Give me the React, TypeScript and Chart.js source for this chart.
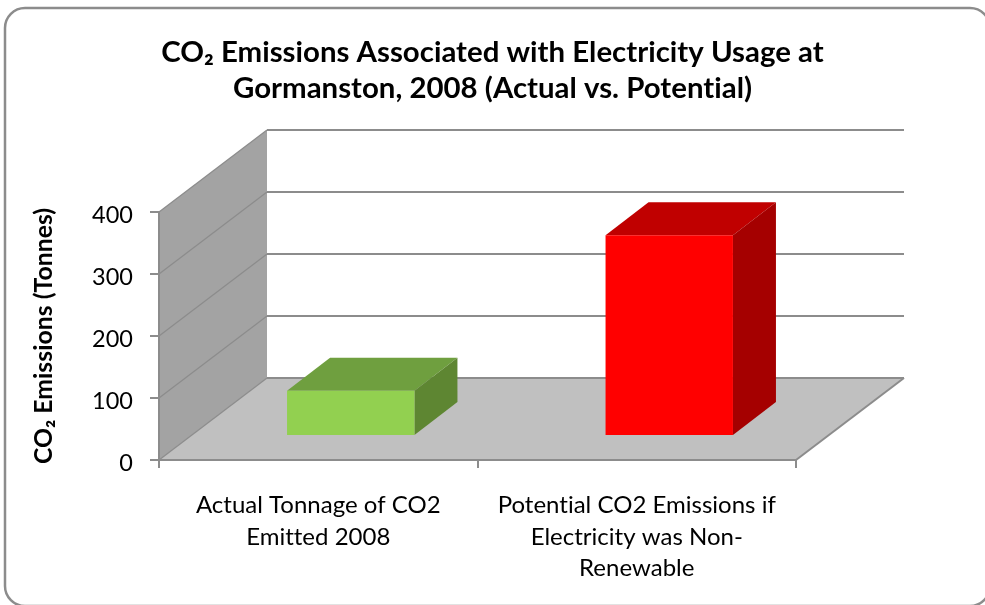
import { useEffect, useRef } from "react";
import { Chart, registerables } from "chart.js";

Chart.register(...registerables);

// Chart content
const titleLines = [
  "CO₂ Emissions Associated with Electricity Usage at",
  "Gormanston, 2008 (Actual vs. Potential)",
];
const valueAxisTitle = "CO₂ Emissions (Tonnes)";
const categoryLabels = [
  ["Actual Tonnage of CO2", "Emitted 2008"],
  ["Potential CO2 Emissions if", "Electricity was Non-", "Renewable"],
];
const emissionsTonnes = [73, 324];

// Bar face colours, one entry per category
const frontColors = ["#92d050", "#ff0000"];
const topColors = ["#6f9f3f", "#c00000"];
const sideColors = ["#5e8632", "#a50000"];

// Oblique projection of the 3D box
const WALL_DEPTH_X = 108;
const WALL_DEPTH_Y = 82;
const BAR_OFFSET_X = 32.5;
const BAR_OFFSET_Y = 24;
const BAR_DEPTH_X = 43;
const BAR_DEPTH_Y = 33;

const FONT = "Lato, 'Open Sans', sans-serif";
const LINE_COLOR = "#8c8c8c";

function polygon(ctx: CanvasRenderingContext2D, pts: number[][], fill: string) {
  ctx.beginPath();
  pts.forEach(([x, y], i) => (i ? ctx.lineTo(x, y) : ctx.moveTo(x, y)));
  ctx.closePath();
  ctx.fillStyle = fill;
  ctx.fill();
}

function segment(ctx: CanvasRenderingContext2D, x0: number, y0: number, x1: number, y1: number, width: number) {
  ctx.beginPath();
  ctx.moveTo(x0, y0);
  ctx.lineTo(x1, y1);
  ctx.lineWidth = width;
  ctx.strokeStyle = LINE_COLOR;
  ctx.stroke();
}

// Rounded frame, side wall, floor and gridlines behind the axes
const boxPlugin = {
  id: "box3d",
  beforeDraw(chart: any) {
    const { ctx, scales, chartArea } = chart;
    const y = scales.y;
    const { left, right } = chartArea;
    const floorY = y.getPixelForValue(0);
    const topY = y.getPixelForValue(400);
    const dx = WALL_DEPTH_X;
    const dy = WALL_DEPTH_Y;

    // A tiny letter spacing turns off the font's "ti" and "tt" ligatures for all chart text
    ctx.letterSpacing = "0.01px";

    ctx.save();

    ctx.fillStyle = "#ffffff";
    ctx.fillRect(0, 0, chart.width, chart.height);
    ctx.beginPath();
    ctx.roundRect(5, 8, 985, 598, 20);
    ctx.lineWidth = 2.5;
    ctx.strokeStyle = LINE_COLOR;
    ctx.stroke();

    polygon(ctx, [[left, topY], [left + dx, topY - dy], [left + dx, floorY - dy], [left, floorY]], "#a3a3a3");
    polygon(ctx, [[left, floorY], [left + dx, floorY - dy], [right + dx, floorY - dy], [right, floorY]], "#c0c0c0");

    y.ticks.forEach((t: any) => {
      const py = y.getPixelForValue(t.value);
      segment(ctx, left, py, left + dx, py - dy, 1.25);
      segment(ctx, left + dx, py - dy, right + dx, py - dy, 2);
    });
    segment(ctx, right, floorY, right + dx, floorY - dy, 2);
    ctx.restore();
  },
  // The library draws the front face; the top and side are added around it
  beforeDatasetDraw(chart: any, args: any) {
    const { ctx } = chart;
    ctx.save();
    ctx.translate(BAR_OFFSET_X, -BAR_OFFSET_Y);
    args.meta.data.forEach((bar: any, i: number) => {
      const x0 = bar.x - bar.width / 2;
      const x1 = bar.x + bar.width / 2;
      const dx = BAR_DEPTH_X;
      const dy = BAR_DEPTH_Y;
      polygon(ctx, [[x0, bar.y], [x0 + dx, bar.y - dy], [x1 + dx, bar.y - dy], [x1, bar.y]], topColors[i]);
      polygon(ctx, [[x1, bar.y], [x1 + dx, bar.y - dy], [x1 + dx, bar.base - dy], [x1, bar.base]], sideColors[i]);
    });
  },
  afterDatasetDraw(chart: any) {
    chart.ctx.restore();
  },
};

export default function App() {
  const canvasRef = useRef<HTMLCanvasElement>(null);

  useEffect(() => {
    const chart = new Chart(canvasRef.current!, {
      type: "bar",
      data: {
        labels: categoryLabels,
        datasets: [
          {
            data: emissionsTonnes,
            backgroundColor: frontColors,
            barPercentage: 1,
            categoryPercentage: 0.4,
            clip: false,
          } as any,
        ],
      },
      plugins: [boxPlugin],
      options: {
        animation: false,
        responsive: false,
        plugins: {
          legend: { display: false },
          tooltip: { enabled: false },
          title: {
            display: true,
            text: titleLines,
            color: "#000000",
            font: { family: FONT, size: 29.4, weight: "bold", lineHeight: 1.225 },
            padding: { top: 34.5, bottom: 105.5 },
          },
        },
        scales: {
          x: {
            grid: { color: LINE_COLOR, lineWidth: 2, drawOnChartArea: false, tickLength: 8 },
            border: { color: LINE_COLOR, width: 2 },
            ticks: {
              color: "#000000",
              autoSkip: false,
              maxRotation: 0,
              padding: 22,
              font: { family: FONT, size: 24, lineHeight: 1.31 },
            },
            afterFit(scale: any) {
              scale.height = 145;
            },
          },
          y: {
            min: 0,
            max: 400,
            grid: { color: LINE_COLOR, lineWidth: 2, drawOnChartArea: false, tickLength: 9 },
            border: { color: LINE_COLOR, width: 2 },
            ticks: {
              stepSize: 100,
              color: "#000000",
              padding: 17,
              labelOffset: 3,
              font: { family: FONT, size: 23.5 },
            },
            title: {
              display: true,
              text: valueAxisTitle,
              color: "#000000",
              padding: { top: 29, bottom: 0 },
              font: { family: FONT, size: 24.8, weight: "bold" },
            },
            afterFit(scale: any) {
              scale.width = 159;
            },
          },
          // Empty axis that reserves the room taken by the floor's depth on the right
          depthSpace: {
            position: "right",
            grid: { display: false },
            border: { display: false },
            ticks: { display: false },
            afterFit(scale: any) {
              scale.width = 189;
            },
          },
        },
      },
    });
    return () => chart.destroy();
  }, []);

  return (
    <div style={{ position: "fixed", left: 0, top: 0, width: 985, height: 605, overflow: "hidden" }}>
      <canvas ref={canvasRef} width={985} height={605} style={{ display: "block" }} />
    </div>
  );
}
